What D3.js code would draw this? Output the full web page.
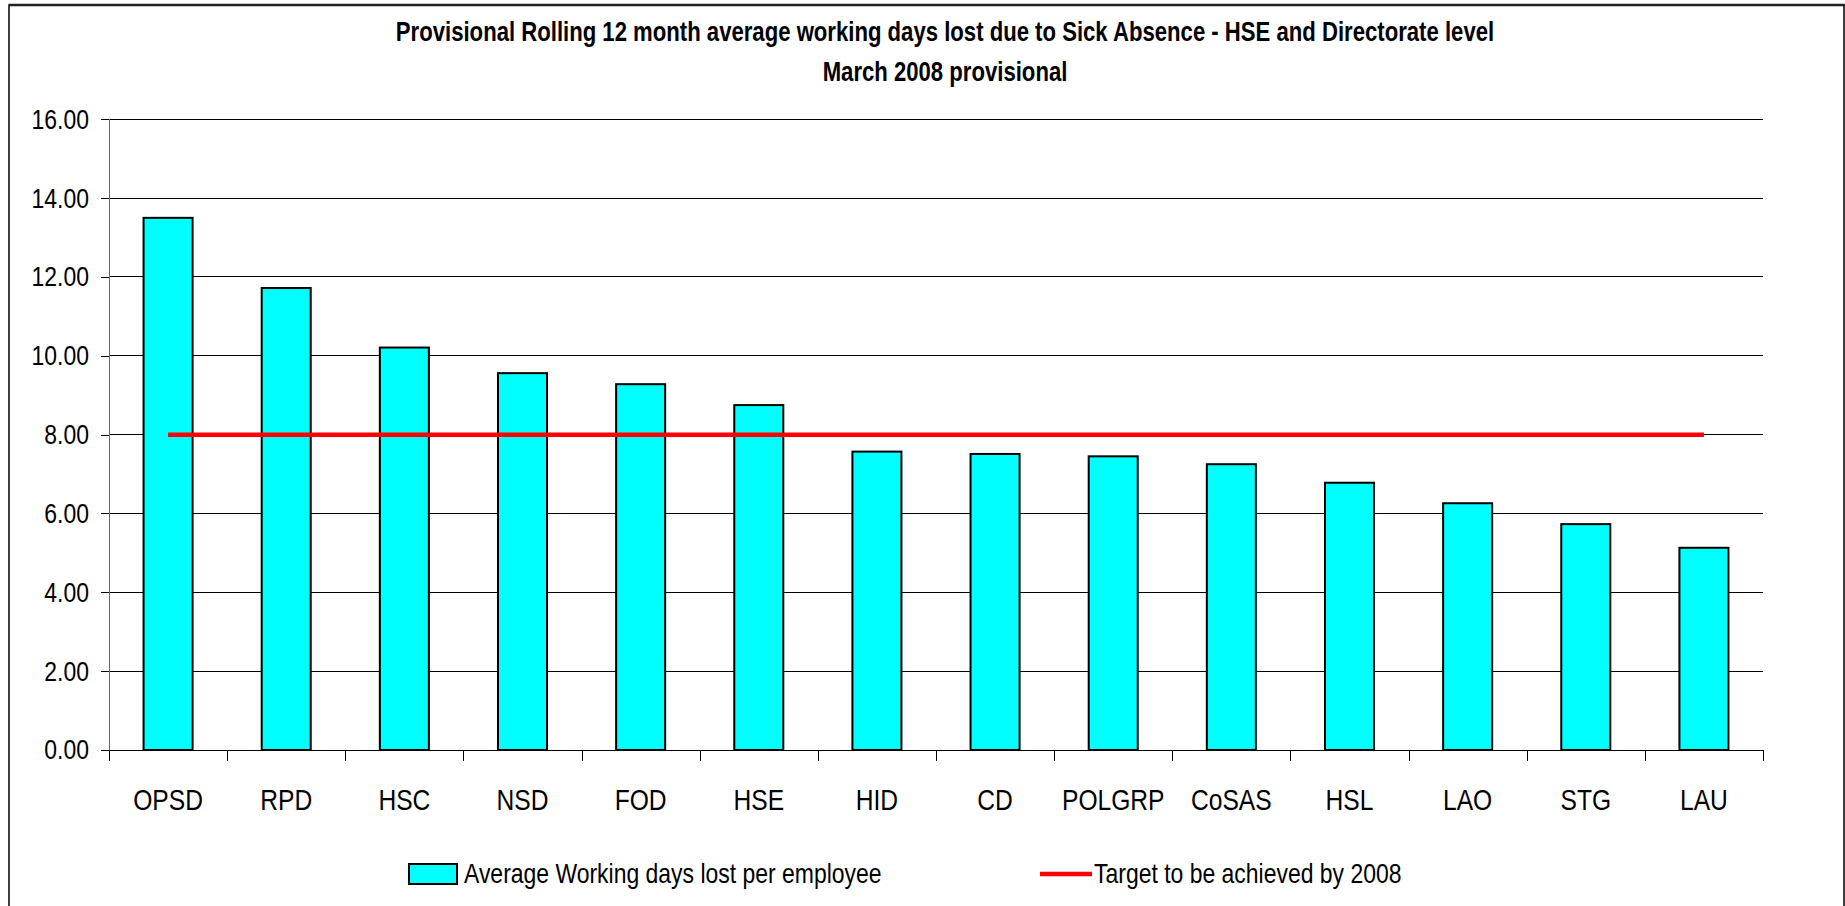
<!DOCTYPE html>
<html>
<head>
<meta charset="utf-8">
<script src="https://cdn.jsdelivr.net/npm/d3@7"></script>
<style>
  body { margin: 0; background: #fff; }
  svg text { font-family: "Liberation Sans", Arial, sans-serif; fill: #000; }
</style>
</head>
<body>
<div id="chart"></div>
<script>

// data
let categories = ['OPSD', 'RPD', 'HSC', 'NSD', 'FOD', 'HSE', 'HID', 'CD', 'POLGRP', 'CoSAS', 'HSL', 'LAO', 'STG', 'LAU'];
let daysLost = [13.50, 11.72, 10.21, 9.56, 9.28, 8.75, 7.57, 7.51, 7.45, 7.25, 6.78, 6.26, 5.73, 5.13];
let target = [8, 8, 8, 8, 8, 8, 8, 8, 8, 8, 8, 8, 8, 8];
let yTicks = [0, 2, 4, 6, 8, 10, 12, 14, 16];
let titleLines = ['Provisional Rolling 12 month average working days lost due to Sick Absence - HSE and Directorate level', 'March 2008 provisional'];
let legendLabels = ['Average Working days lost per employee', 'Target to be achieved by 2008'];

// no Arial Narrow in the sandbox, so squeeze the normal face instead
const NARROW = 0.82;
function narrow(sel) {
  sel.each(function() {
    let t = d3.select(this);
    let tx = +t.attr('x') || 0;
    let ty = +t.attr('y') || 0;
    t.attr('x', 0).attr('y', 0)
     .attr('transform', 'translate(' + tx + ',' + ty + ') scale(' + NARROW + ',1)');
  });
}

class SickChart {

  constructor() {
    this.width = 1845;
    this.height = 906;
    this.left = 109;
    this.right = 1763;
    this.top = 119.3;
    this.bottom = 750;
    this.svg = d3.select('#chart')
              .append('svg')
              .attr('width', this.width)
              .attr('height', this.height);
  }

  update() {
    let svg = this.svg;

    // outer frame (right and bottom edges fall off the picture)
    svg.append('rect')
      .attr('x', 9).attr('y', 5)
      .attr('width', 1835).attr('height', 920)
      .attr('fill', 'none')
      .attr('stroke', '#000')
      .attr('stroke-width', 1.5);
    svg.append('line')
      .attr('x1', 9).attr('x2', this.width)
      .attr('y1', 5).attr('y2', 5)
      .attr('stroke', '#222').attr('stroke-width', 2.5);

    let x = d3.scaleBand()
              .domain(categories)
              .range([this.left, this.right])
              .padding(0);
    let xEdge = d3.scaleLinear()
              .domain([0, categories.length])
              .range([this.left, this.right]);
    let y = d3.scaleLinear()
              .domain([0, 16])
              .range([this.bottom, this.top]);

    // gridlines
    svg.append('g')
      .selectAll('line')
      .data(yTicks.filter(d => d > 0))
      .enter()
      .append('line')
      .attr('x1', this.left).attr('x2', this.right)
      .attr('y1', d => y(d)).attr('y2', d => y(d))
      .attr('stroke', '#000')
      .attr('stroke-width', 1)
      .attr('shape-rendering', 'crispEdges');

    // y axis
    let yAxis = svg.append('g')
      .attr('transform', 'translate(' + this.left + ',0)')
      .call(d3.axisLeft(y).tickValues(yTicks).tickFormat(d3.format('.2f')).tickSize(8).tickPadding(12));
    yAxis.selectAll('text').style('font-size', '28px').call(narrow);
    yAxis.selectAll('line').attr('stroke', '#000').attr('shape-rendering', 'crispEdges');
    yAxis.select('.domain').attr('stroke', '#666').attr('shape-rendering', 'crispEdges');

    // bars
    let barW = x.bandwidth() * 0.415;
    svg.append('g')
      .selectAll('rect')
      .data(daysLost)
      .enter()
      .append('rect')
      .attr('x', (d, i) => x(categories[i]) + (x.bandwidth() - barW) / 2)
      .attr('y', d => y(d))
      .attr('width', barW)
      .attr('height', d => y(0) - y(d))
      .attr('fill', '#00ffff')
      .attr('stroke', '#000')
      .attr('stroke-width', 2);

    // x axis: boundary ticks and labels
    let xTicks = svg.append('g')
      .attr('transform', 'translate(0,' + this.bottom + ')')
      .call(d3.axisBottom(xEdge).tickValues(d3.range(categories.length + 1)).tickFormat('').tickSize(11).tickSizeOuter(0));
    xTicks.selectAll('line').attr('stroke', '#000').attr('shape-rendering', 'crispEdges');
    xTicks.select('.domain').attr('stroke', '#000').attr('shape-rendering', 'crispEdges');

    let xLabels = svg.append('g')
      .attr('transform', 'translate(0,' + this.bottom + ')')
      .call(d3.axisBottom(x).tickSize(0).tickPadding(38.7));
    xLabels.select('.domain').remove();
    xLabels.selectAll('text').style('font-size', '30px').call(narrow);

    // target line
    let line = d3.line()
      .x((d, i) => x(categories[i]) + x.bandwidth() / 2)
      .y(d => y(d));
    svg.append('path')
      .datum(target)
      .attr('d', line)
      .attr('fill', 'none')
      .attr('stroke', '#ff0000')
      .attr('stroke-width', 4.5);

    // title
    svg.append('g')
      .selectAll('text')
      .data(titleLines)
      .enter()
      .append('text')
      .attr('x', 945)
      .attr('y', (d, i) => 41 + i * 40)
      .attr('text-anchor', 'middle')
      .style('font-size', '27px')
      .style('font-weight', 'bold')
      .text(d => d)
      .call(narrow);

    // legend
    let legend = svg.append('g');
    legend.append('rect')
      .attr('x', 409).attr('y', 864)
      .attr('width', 48).attr('height', 20)
      .attr('fill', '#00ffff')
      .attr('stroke', '#000')
      .attr('stroke-width', 2);
    legend.append('line')
      .attr('x1', 1040).attr('x2', 1092)
      .attr('y1', 874).attr('y2', 874)
      .attr('stroke', '#ff0000')
      .attr('stroke-width', 4.5);
    legend.selectAll('text')
      .data(legendLabels)
      .enter()
      .append('text')
      .attr('x', (d, i) => i == 0 ? 464 : 1094)
      .attr('y', 883)
      .style('font-size', '28px')
      .text(d => d)
      .call(narrow);
  }
}

let chart = new SickChart();
chart.update();

</script>
</body>
</html>
